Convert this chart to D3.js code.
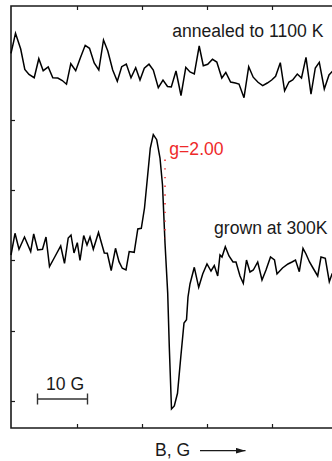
<!DOCTYPE html>
<html>
<head>
<meta charset="utf-8">
<script src="https://cdn.jsdelivr.net/npm/d3@7/dist/d3.min.js"></script>
<style>
  html, body { margin: 0; padding: 0; background: #fff; }
  svg { display: block; }
  text { font-family: "Liberation Sans", Arial, Helvetica, sans-serif; }
</style>
</head>
<body>
<svg id="chart" width="332" height="461"></svg>
<script>
// Field offset (G) and ESR derivative signal (a.u.) of the annealed sample
const annealedField = [-0.2, 0.7, 1.74, 2.56, 3.4, 4.44, 5.36, 6.24, 7.24, 8.16, 9.16, 10.06, 10.9, 11.76, 12.74,
  13.66, 14.64, 15.5, 16.44, 17.36, 18.3, 19.16, 20.14, 21.06, 21.94, 22.86, 23.8, 24.74, 25.6, 26.46, 27.4,
  28.26, 29.26, 30.2, 31.1, 31.86, 32.8, 33.8, 34.76, 35.6, 36.46, 37.44, 38.26, 39.14, 40.1, 40.96, 41.96,
  42.76, 43.72, 44.66, 45.4, 46.4, 47.34, 48.24, 49.2, 50.14, 51.06, 51.94, 52.72, 53.66, 54.52, 55.4, 56.14,
  57.06, 57.9, 58.8, 59.8, 60.66, 61.46, 62.46, 63.4, 64, 64.8];
const annealedSignal = [374.7, 394.7, 379, 358.5, 353.5, 350.3, 369.3, 357.3, 361, 350.3, 350, 347.5, 343.8, 364.3, 357.3,
  370, 382.7, 379.7, 365, 358, 388, 377, 358, 346.8, 361.3, 364, 350.3, 360.3, 348, 359.7, 363.8,
  358, 340.3, 348, 341.5, 341, 357, 332.5, 360.7, 356, 354, 382, 362.3, 363.7, 368.7, 366, 350,
  355.5, 346, 345, 344, 330.3, 361.3, 350.8, 345.7, 342.3, 345, 348, 351.7, 365.3, 337.2, 346, 348,
  354, 350, 370.7, 333.8, 360, 365.7, 339, 353, 356.3, 360];

// Field offset (G) and ESR derivative signal (a.u.) of the as-grown sample
const grownField = [-0.2, 0.6, 1.4, 2.5, 3.74, 4.34, 5.14, 6.1, 6.8, 7.5, 8.6, 9.74, 10.5, 11.24, 11.8, 12.4, 13.06,
  13.6, 14.34, 15, 15.6, 16.26, 17.3, 18.46, 19.06, 19.84, 20.7, 21.4, 22.06, 22.8, 23.44, 24.44, 25.16,
  25.86, 26.5, 27.1, 27.66, 28.26, 28.94, 29.6, 30.1, 30.6, 31.14, 31.46, 31.9, 32.46, 33.1, 33.74, 34.4,
  34.9, 35.2, 35.6, 36.46, 37.34, 38.14, 39, 39.8, 40.46, 41.14, 41.6, 42, 42.66, 43.4, 44.2, 44.8, 45.6,
  46.26, 46.9, 47.6, 48.26, 49.14, 50, 50.8, 51.7, 52.5, 53, 54.1, 55.2, 56, 56.7, 57.46, 58.2, 58.8,
  59.5, 60.2, 61.14, 61.8, 62.66, 63.46, 64, 64.8];
const grownSignal = [173, 194.7, 178.7, 191, 176.5, 194, 178, 178.7, 191, 161.5, 171.5, 182, 164.7, 190, 193, 175, 185.3,
  167.5, 192.5, 183, 191, 178.7, 195.5, 175, 174.7, 157.5, 179.7, 166.3, 159.7, 158, 176.5, 175.7, 199,
  199.7, 220, 251, 280, 293.3, 288.3, 270, 243, 185, 135, 81, 19, 22, 34.7, 70, 105,
  108.3, 131, 144, 160.7, 140.7, 154, 164, 157, 162.5, 152, 173, 171, 181.3, 172, 166, 166, 152,
  144.7, 168, 156, 158, 166, 148, 158, 171, 168, 154, 160, 164, 166, 168, 156.3, 179.7, 174,
  166, 160, 152, 171, 169.7, 146.3, 154, 160];

// Unlabelled axis ticks
const fieldTicks = [13, 26, 39, 52];
const signalTicks = [27, 97, 168, 238, 308];

// Annotations
const traceLabels = ["annealed to 1100 K", "grown at 300K"];
const gLabel = "g=2.00";
const gField = 30.6;            // field position of g = 2.00
const gSpan = [189.7, 268.5];   // signal extent of the g marker
const scaleBarField = [5.1, 15.1];
const scaleBarSignal = 29;
const scaleBarLabel = "10 G";
const xAxisLabel = "B, G";

const svg = d3.select("#chart");
const frame = { left: 11, right: 340, top: 6, bottom: 428 };

const x = d3.scaleLinear().domain([-0.2, 65.6]).range([frame.left, frame.right]);
const y = d3.scaleLinear().domain([0, 422]).range([frame.bottom, frame.top]);

const ink = "#1a1a1a";
const fontSize = 17.6;

// Axes with inward ticks
const tickLen = 4;
svg.append("g").attr("transform", `translate(0,${frame.bottom})`)
  .call(d3.axisBottom(x).tickValues(fieldTicks).tickSize(-tickLen).tickFormat(""));
svg.append("g").attr("transform", `translate(0,${frame.top})`)
  .call(d3.axisTop(x).tickValues(fieldTicks).tickSize(-tickLen).tickFormat(""));
svg.append("g").attr("transform", `translate(${frame.left},0)`)
  .call(d3.axisLeft(y).tickValues(signalTicks).tickSize(-tickLen).tickFormat(""));
svg.selectAll(".domain").remove();
svg.selectAll(".tick line").attr("stroke", ink).attr("stroke-width", 1.2);

// Frame
svg.append("path")
  .attr("d", `M${frame.right},${frame.top}H${frame.left}V${frame.bottom}H${frame.right}`)
  .attr("fill", "none").attr("stroke", ink).attr("stroke-width", 1.6);

// Spectra
const line = d3.line().x(d => x(d[0])).y(d => y(d[1]));
[[annealedField, annealedSignal], [grownField, grownSignal]].forEach(([f, s]) => {
  svg.append("path")
    .datum(f.map((v, i) => [v, s[i]]))
    .attr("d", line)
    .attr("fill", "none")
    .attr("stroke", "#000")
    .attr("stroke-width", 1.5)
    .attr("stroke-linejoin", "miter");
});

// g = 2.00 marker
svg.append("line")
  .attr("x1", x(gField)).attr("x2", x(gField))
  .attr("y1", y(gSpan[1])).attr("y2", y(gSpan[0]))
  .attr("stroke", "#ee2a2a").attr("stroke-width", 1.5)
  .attr("stroke-dasharray", "1.4,7.3");
svg.append("text")
  .attr("x", x(gField) + 4.3).attr("y", 155)
  .attr("font-size", fontSize).attr("fill", "#ee2a2a")
  .text(gLabel);

// Trace labels
svg.append("text").attr("x", 323.5).attr("y", 36.7).attr("text-anchor", "end")
  .attr("font-size", fontSize).attr("fill", ink).text(traceLabels[0]);
svg.append("text").attr("x", 327.5).attr("y", 234).attr("text-anchor", "end")
  .attr("font-size", fontSize).attr("fill", ink).text(traceLabels[1]);

// 10 G scale bar
const sbY = y(scaleBarSignal);
const sb = svg.append("g").attr("stroke", "#333").attr("stroke-width", 1.4);
sb.append("line").attr("x1", x(scaleBarField[0])).attr("x2", x(scaleBarField[1]))
  .attr("y1", sbY).attr("y2", sbY);
scaleBarField.forEach(f => {
  sb.append("line").attr("x1", x(f)).attr("x2", x(f))
    .attr("y1", sbY - 5.5).attr("y2", sbY + 5.5);
});
svg.append("text").attr("x", (x(scaleBarField[0]) + x(scaleBarField[1])) / 2 + 2.5)
  .attr("y", 389.5).attr("text-anchor", "middle")
  .attr("font-size", fontSize).attr("fill", ink).text(scaleBarLabel);

// Field axis label with arrow
svg.append("text").attr("x", 155).attr("y", 456)
  .attr("font-size", fontSize).attr("fill", ink).text(xAxisLabel);
svg.append("defs").append("marker")
  .attr("id", "arrowhead").attr("viewBox", "0 0 10 6")
  .attr("refX", 10).attr("refY", 3)
  .attr("markerWidth", 10).attr("markerHeight", 6)
  .attr("markerUnits", "userSpaceOnUse").attr("orient", "auto")
  .append("path").attr("d", "M0,0L10,3L0,6Z").attr("fill", ink);
svg.append("line").attr("x1", 200).attr("x2", 245.5).attr("y1", 450.7).attr("y2", 450.7)
  .attr("stroke", ink).attr("stroke-width", 1.2).attr("marker-end", "url(#arrowhead)");
</script>
</body>
</html>
